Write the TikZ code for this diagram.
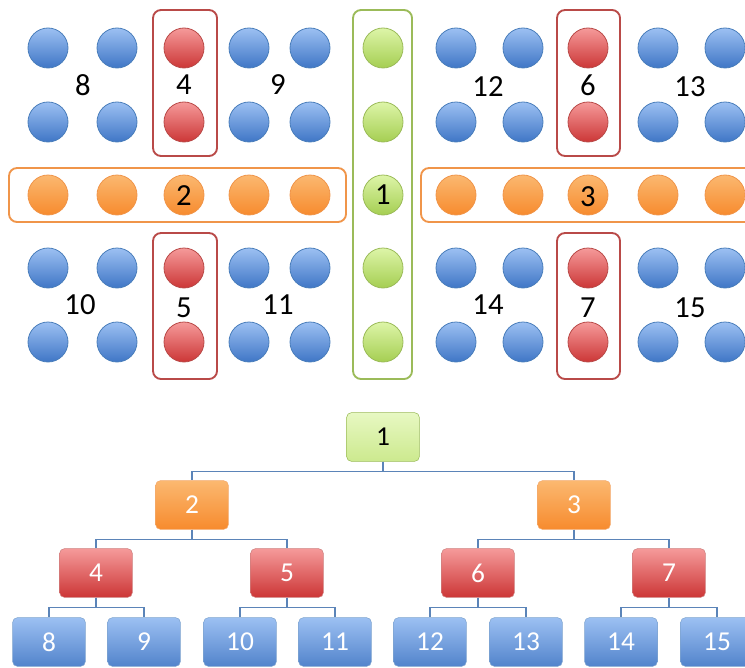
\documentclass[tikz,border=0pt]{standalone}
\usepackage{fontspec}
\setmainfont{Carlito}
\usetikzlibrary{calc}
\definecolor{bluetop}{HTML}{9CC0F2}
\definecolor{bluebot}{HTML}{3F76C6}
\definecolor{blueline}{HTML}{4A7EBB}
\definecolor{redtop}{HTML}{F59A9A}
\definecolor{redbot}{HTML}{CC3636}
\definecolor{redline}{HTML}{B94A48}
\definecolor{orgtop}{HTML}{FBB870}
\definecolor{orgbot}{HTML}{F78B2E}
\definecolor{orgline}{HTML}{F0954A}
\definecolor{grntop}{HTML}{DDF5A8}
\definecolor{grnbot}{HTML}{A5CE52}
\definecolor{grnline}{HTML}{9BBB59}
\definecolor{treeline}{HTML}{5B84B8}
\tikzset{
  ball/.style={circle, minimum size=30pt, inner sep=0pt, line width=0.6pt},
  bblue/.style={ball, draw=blueline, top color=bluetop, bottom color=bluebot},
  bred/.style={ball, draw=redline, top color=redtop, bottom color=redbot},
  borg/.style={ball, draw=orgline, top color=orgtop, bottom color=orgbot},
  bgrn/.style={ball, draw=grnline, top color=grntop, bottom color=grnbot},
  lab/.style={font=\fontsize{23}{23}\selectfont, text=black, inner sep=0pt},
  frame/.style={rounded corners=6pt, line width=1.4pt},
  tbox/.style={rectangle, rounded corners=3.5pt, minimum width=54.5pt, minimum height=36.5pt, inner sep=0pt, font=\fontsize{20.5}{20.5}\selectfont, text=white},
  tblue/.style={tbox, draw=blueline!70, top color=bluetop, bottom color=bluebot!90},
  tred/.style={tbox, draw=redline!70, top color=redtop, bottom color=redbot},
  torg/.style={tbox, draw=orgline!80, top color=orgtop, bottom color=orgbot},
  tgrn/.style={tbox, draw=grnline, top color=grntop!70, bottom color=grntop!70!grnbot, text=black},
  conn/.style={draw=treeline, line width=0.9pt},
}
\begin{document}
\begin{tikzpicture}[x=0.75pt, y=-0.75pt]
\useasboundingbox (0,0) rectangle (745,667);
\clip (0,0) rectangle (745,667);
% frames
\draw[frame, draw=redline] (153,10) rectangle (217,156);
\draw[frame, draw=redline] (153,233) rectangle (217,379);
\draw[frame, draw=redline] (557,10) rectangle (620,156);
\draw[frame, draw=redline] (557,233) rectangle (620,379);
\draw[frame, draw=orgline] (9,168) rectangle (346,222);
\draw[frame, draw=orgline] (421,168) rectangle (760,222);
\draw[frame, draw=grnline] (353,10) rectangle (412,379);
% blue balls
\foreach \x/\n in {48/a,117/b,249/d,310/e,456/f,523/g,658/i,725/j}{
  \foreach \y/\m in {48/1,122/2,268/4,342/5}{
    \node[bblue] (c\n\m) at (\x,\y) {};
  }
}
% red balls
\foreach \x/\n in {184/c,588/h}{
  \foreach \y/\m in {48/1,122/2,268/4,342/5}{
    \node[bred] (c\n\m) at (\x,\y) {};
  }
}
% orange balls
\foreach \x/\n in {48/a,117/b,184/c,249/d,310/e,456/f,523/g,588/h,658/i,725/j}{
  \node[borg] (c\n3) at (\x,195) {};
}
% green balls
\foreach \y/\m in {48/1,122/2,195/3,268/4,342/5}{
  \node[bgrn] (ck\m) at (383,\y) {};
}
% labels
\node[lab] (l8) at (83,85) {8};
\node[lab] (l4) at (184,85) {4};
\node[lab] (l9) at (278,85) {9};
\node[lab] (l2) at (184,196) {2};
\node[lab] (l12) at (488,87) {12};
\node[lab] (l6) at (588,85) {6};
\node[lab] (l13) at (690,87) {13};
\node[lab] (l1) at (383,195) {1};
\node[lab] (l3) at (588,197) {3};
\node[lab] (l10) at (80,305) {10};
\node[lab] (l5) at (184,308) {5};
\node[lab] (l11) at (278,305) {11};
\node[lab] (l14) at (488,305) {14};
\node[lab] (l7) at (588,308) {7};
\node[lab] (l15) at (690,308) {15};
% tree
\node[tgrn] (t1) at (383,437) {1};
\node[torg] (t2) at (192,505) {2};
\node[torg] (t3) at (574,505) {3};
\node[tred] (t4) at (96,573) {4};
\node[tred] (t5) at (287,573) {5};
\node[tred] (t6) at (478,573) {6};
\node[tred] (t7) at (669,573) {7};
\node[tblue] (t8) at (49,642) {8};
\node[tblue] (t9) at (144,642) {9};
\node[tblue] (t10) at (240,642) {10};
\node[tblue] (t11) at (335,642) {11};
\node[tblue] (t12) at (430,642) {12};
\node[tblue] (t13) at (526,642) {13};
\node[tblue] (t14) at (621,642) {14};
\node[tblue] (t15) at (717,642) {15};
\foreach \p/\c in {t1/t2,t1/t3,t2/t4,t2/t5,t3/t6,t3/t7,t4/t8,t4/t9,t5/t10,t5/t11,t6/t12,t6/t13,t7/t14,t7/t15}{
  \draw[conn] (\p.south) -- ++(0,9.5) -| (\c.north);
}
\end{tikzpicture}
\end{document}
